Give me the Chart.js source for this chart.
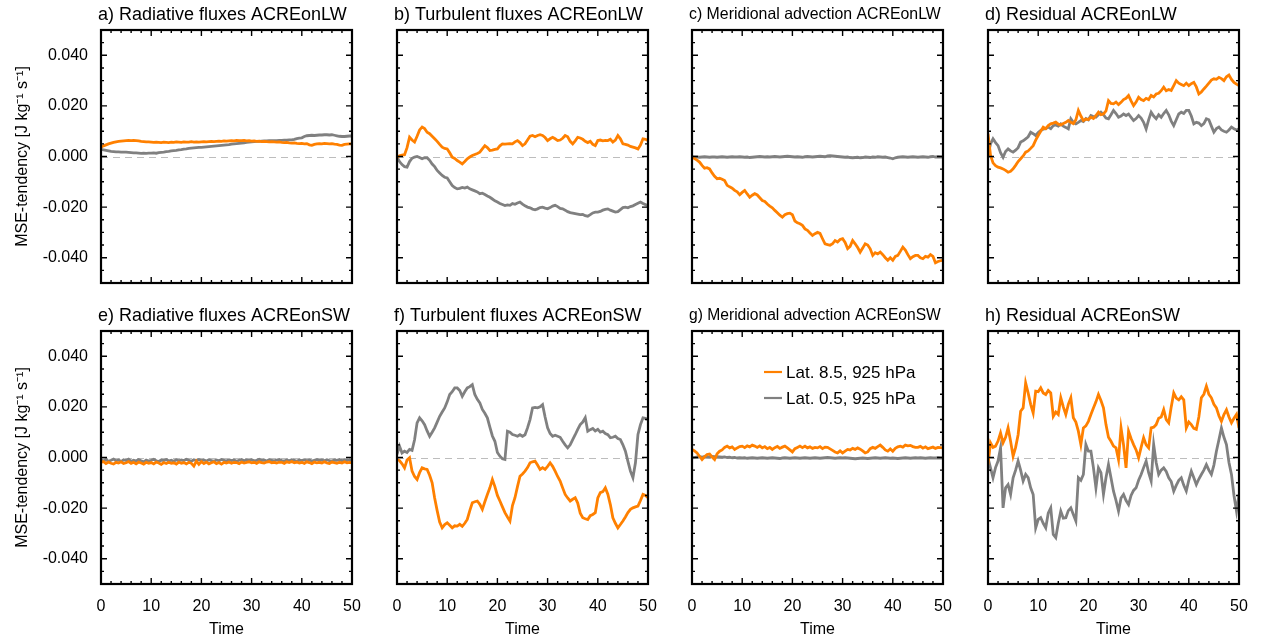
<!DOCTYPE html>
<html>
<head>
<meta charset="utf-8">
<title>MSE tendency ACRE</title>
<script src="https://cdn.jsdelivr.net/npm/chart.js@4.4.1/dist/chart.umd.min.js"></script>
<style>
  html, body { margin: 0; padding: 0; background: #fff; }
  body { width: 1262px; height: 639px; position: relative; overflow: hidden; }
  canvas { position: absolute; }
</style>
</head>
<body>
<div id="wrap"></div>
<script>
// ---- data (MSE-tendency, J kg-1 s-1) ----
const time = [
  0,0.5,1,1.5,2,2.5,3,3.5,4,4.5, 5,5.5,6,6.5,7,7.5,8,8.5,9,9.5,
  10,10.5,11,11.5,12,12.5,13,13.5,14,14.5, 15,15.5,16,16.5,17,17.5,18,18.5,19,19.5,
  20,20.5,21,21.5,22,22.5,23,23.5,24,24.5, 25,25.5,26,26.5,27,27.5,28,28.5,29,29.5,
  30,30.5,31,31.5,32,32.5,33,33.5,34,34.5, 35,35.5,36,36.5,37,37.5,38,38.5,39,39.5,
  40,40.5,41,41.5,42,42.5,43,43.5,44,44.5, 45,45.5,46,46.5,47,47.5,48,48.5,49,49.5, 50
];
const xTicks = [0, 10, 20, 30, 40, 50];
const yTicks = [-0.04, -0.02, 0, 0.02, 0.04];
const seriesLabels = ["Lat. 8.5, 925 hPa", "Lat. 0.5, 925 hPa"];
const panelTitles = [
  "a) Radiative fluxes ACREonLW", "b) Turbulent fluxes ACREonLW",
  "c) Meridional advection ACREonLW", "d) Residual ACREonLW",
  "e) Radiative fluxes ACREonSW", "f) Turbulent fluxes ACREonSW",
  "g) Meridional advection ACREonSW", "h) Residual ACREonSW"
];

const radLW_lat85 = [
  0.0037,0.0042,0.0046,0.005,0.0053,0.0056,0.0058,0.006,0.0061,0.0062,
  0.0063,0.0064,0.0063,0.0064,0.0063,0.0062,0.006,0.0059,0.0058,0.0058,
  0.0057,0.0056,0.0057,0.0056,0.0055,0.0057,0.0056,0.0055,0.0057,0.0056,
  0.0058,0.0057,0.0056,0.0058,0.0057,0.0057,0.0059,0.0057,0.0058,0.0057,
  0.0058,0.0059,0.0058,0.0059,0.006,0.0059,0.006,0.0061,0.006,0.0062,
  0.0061,0.0062,0.0063,0.0062,0.0064,0.0063,0.0063,0.0064,0.0062,0.0063,
  0.0061,0.0062,0.006,0.0061,0.0059,0.006,0.0059,0.0058,0.0059,0.0058,
  0.0057,0.0058,0.0056,0.0055,0.0056,0.0054,0.0053,0.0054,0.0052,0.0051,
  0.0052,0.005,0.0051,0.0046,0.0044,0.0048,0.005,0.0051,0.005,0.0052,
  0.0051,0.005,0.0051,0.0049,0.0048,0.0045,0.0044,0.0048,0.0049,0.005, 0.005
];
const radLW_lat05 = [
  0.0028,0.0026,0.0024,0.0022,0.002,0.0019,0.0018,0.0018,0.0017,0.0017,
  0.0017,0.0016,0.0015,0.0014,0.0014,0.0013,0.0012,0.0013,0.0012,0.0013,
  0.0013,0.0014,0.0013,0.0015,0.0016,0.0017,0.0019,0.002,0.0022,0.0023,
  0.0024,0.0026,0.0027,0.0029,0.003,0.0032,0.0033,0.0034,0.0035,0.0036,
  0.0036,0.0037,0.0038,0.0039,0.004,0.0041,0.0042,0.0043,0.0044,0.0045,
  0.0046,0.0047,0.0049,0.005,0.0051,0.0052,0.0053,0.0054,0.0056,0.0057,
  0.0058,0.0059,0.006,0.006,0.0061,0.0062,0.0062,0.0063,0.0063,0.0063,
  0.0063,0.0064,0.0064,0.0065,0.0065,0.0066,0.0066,0.0068,0.0071,0.0073,
  0.0074,0.0079,0.0082,0.0083,0.0084,0.0083,0.0084,0.0085,0.0085,0.0086,
  0.0086,0.0085,0.0086,0.0084,0.0082,0.008,0.0079,0.0079,0.008,0.0081, 0.0081
];
const turbLW_lat85 = [
  -0.0003,0.0003,0.0005,0.0007,0.0035,0.0076,0.0065,0.0057,0.008,0.0105,
  0.0116,0.011,0.0096,0.009,0.008,0.007,0.006,0.0048,0.0037,0.0032,
  0.003,0.0015,-0.0003,-0.0008,-0.0016,-0.0022,-0.0029,-0.002,-0.0009,-0.0002,
  0.0004,0.0008,0.0012,0.0017,0.003,0.0043,0.0035,0.0024,0.0025,0.0028,
  0.003,0.0042,0.005,0.0049,0.005,0.0051,0.005,0.0058,0.0063,0.0055,
  0.0043,0.005,0.0065,0.008,0.0083,0.0078,0.0083,0.0086,0.0083,0.0075,
  0.0063,0.007,0.0076,0.007,0.0063,0.0065,0.0072,0.0083,0.0078,0.006,
  0.005,0.0062,0.0076,0.0073,0.0068,0.006,0.0055,0.006,0.0048,0.0043,
  0.0063,0.0065,0.0062,0.0064,0.0063,0.0068,0.0057,0.0065,0.0083,0.007,
  0.005,0.0048,0.0045,0.004,0.0037,0.0034,0.003,0.0045,0.007,0.0068, 0.0063
];
const turbLW_lat05 = [
  -0.0003,-0.002,-0.0032,-0.004,-0.0042,-0.002,-0.0007,-0.0002,0,-0.0004,
  -0.0009,-0.0005,-0.0005,-0.0015,-0.003,-0.004,-0.0055,-0.0065,-0.0075,-0.0082,
  -0.0085,-0.01,-0.0115,-0.0123,-0.0128,-0.0126,-0.0122,-0.0125,-0.0121,-0.0128,
  -0.0132,-0.0136,-0.014,-0.0147,-0.0145,-0.015,-0.0156,-0.0161,-0.0168,-0.0175,
  -0.018,-0.0186,-0.019,-0.0194,-0.0191,-0.0193,-0.0186,-0.0189,-0.0184,-0.018,
  -0.0188,-0.0195,-0.02,-0.0203,-0.0208,-0.0211,-0.0207,-0.0202,-0.02,-0.0204,
  -0.0207,-0.0202,-0.0196,-0.0193,-0.0198,-0.0205,-0.0207,-0.0212,-0.0218,-0.0222,
  -0.0224,-0.0226,-0.0228,-0.023,-0.0229,-0.0234,-0.0236,-0.023,-0.0223,-0.022,
  -0.022,-0.0217,-0.0212,-0.0209,-0.0207,-0.0212,-0.0216,-0.022,-0.0218,-0.021,
  -0.0202,-0.02,-0.0203,-0.0198,-0.0195,-0.019,-0.0185,-0.018,-0.0186,-0.019, -0.0193
];
const advLW_lat85 = [
  -0.0003,-0.0008,-0.0014,-0.0022,-0.0035,-0.0046,-0.0044,-0.0049,-0.0065,-0.0078,
  -0.0088,-0.0086,-0.009,-0.0095,-0.0114,-0.012,-0.0125,-0.0134,-0.014,-0.0151,
  -0.0142,-0.0134,-0.0148,-0.0161,-0.0153,-0.0147,-0.0152,-0.0163,-0.0174,-0.0178,
  -0.0188,-0.0196,-0.0203,-0.0213,-0.0222,-0.0232,-0.024,-0.023,-0.0226,-0.0224,
  -0.023,-0.0255,-0.0262,-0.0266,-0.0272,-0.0286,-0.0292,-0.0302,-0.0312,-0.0305,
  -0.03,-0.0304,-0.0325,-0.0345,-0.0348,-0.0351,-0.0345,-0.0332,-0.0338,-0.0328,
  -0.0325,-0.034,-0.0364,-0.0355,-0.0332,-0.0345,-0.036,-0.0378,-0.0362,-0.0345,
  -0.035,-0.0365,-0.0391,-0.038,-0.0385,-0.0378,-0.0388,-0.04,-0.041,-0.04,
  -0.041,-0.0395,-0.0391,-0.0375,-0.0358,-0.037,-0.0388,-0.0404,-0.0396,-0.0391,
  -0.0391,-0.04,-0.0404,-0.0395,-0.0398,-0.0388,-0.0395,-0.042,-0.0415,-0.0412, -0.041
];
const advLW_lat05 = [
  -0.0001,-0.0002,-0.0002,-0.0003,-0.0002,-0.0001,-0.0002,-0.0003,-0.0002,-0.0002,
  -0.0003,-0.0002,-0.0001,-0.0002,-0.0003,-0.0002,-0.0001,-0.0002,-0.0002,-0.0001,
  -0.0002,-0.0003,-0.0002,-0.0004,-0.0003,-0.0002,-0.0001,0,-0.0001,-0.0002,
  -0.0001,-0.0002,-0.0001,0,-0.0001,-0.0002,-0.0001,0,0.0001,0,
  -0.0001,-0.0002,-0.0001,-0.0002,-0.0003,-0.0001,0,-0.0001,-0.0002,-0.0001,
  0,0.0001,0,-0.0001,0.0002,0.0003,0.0002,0.0001,0,-0.0001,
  -0.0002,-0.0003,-0.0002,-0.0004,-0.0005,-0.0004,-0.0003,-0.0005,-0.0004,-0.0002,
  -0.0003,-0.0004,-0.0002,-0.0003,-0.0001,-0.0002,-0.0003,-0.0002,-0.0004,-0.0006,
  -0.0009,-0.0005,-0.0003,-0.0002,-0.0001,-0.0002,-0.0003,-0.0002,-0.0001,-0.0002,
  -0.0003,-0.0002,-0.0001,-0.0002,-0.0003,-0.0001,0,-0.0002,-0.0001,-0.0002, -0.0002
];
const resLW_lat85 = [
  0.009,0.0005,-0.0025,-0.0036,-0.0042,-0.0045,-0.0049,-0.0055,-0.0062,-0.0058,
  -0.0049,-0.0035,-0.002,-0.0009,0.0002,0.0017,0.0022,0.0032,0.0043,0.0065,
  0.0083,0.01,0.0116,0.011,0.0122,0.0129,0.0132,0.0136,0.0128,0.0125,
  0.013,0.0135,0.0142,0.0135,0.013,0.0145,0.0182,0.016,0.0142,0.0148,
  0.0146,0.0155,0.015,0.0162,0.0175,0.0165,0.0168,0.018,0.0221,0.021,
  0.0208,0.0215,0.0205,0.0214,0.0225,0.023,0.0241,0.022,0.0201,0.0215,
  0.0234,0.0225,0.0221,0.023,0.0225,0.0241,0.0235,0.0247,0.025,0.026,
  0.0274,0.026,0.0265,0.0261,0.028,0.03,0.029,0.0285,0.028,0.029,
  0.028,0.0288,0.0293,0.0275,0.0247,0.0255,0.0267,0.0278,0.029,0.0302,
  0.0307,0.0305,0.0313,0.0308,0.03,0.0315,0.0322,0.0305,0.0293,0.0286, 0.028
];
const resLW_lat05 = [
  0.0004,0.005,0.007,0.0055,0.0043,0.0015,-0.0003,0.002,0.003,0.0022,
  0.0017,0.0025,0.0035,0.0057,0.0062,0.007,0.0078,0.0096,0.009,0.0083,
  0.0095,0.0103,0.0108,0.011,0.0116,0.011,0.0122,0.0125,0.012,0.0129,
  0.012,0.0115,0.0109,0.0149,0.0135,0.0129,0.0135,0.0142,0.0138,0.015,
  0.0145,0.0162,0.0158,0.0155,0.0165,0.0175,0.0165,0.0152,0.0149,0.0165,
  0.0182,0.017,0.0155,0.016,0.0168,0.0162,0.0168,0.0155,0.0142,0.015,
  0.0162,0.0152,0.0135,0.0109,0.0145,0.0175,0.016,0.0149,0.0165,0.0155,
  0.017,0.0182,0.0165,0.014,0.0122,0.0145,0.0168,0.0175,0.017,0.0182,
  0.0182,0.016,0.0129,0.0135,0.0132,0.0122,0.013,0.0149,0.0145,0.012,
  0.0096,0.011,0.0116,0.0105,0.01,0.0096,0.0105,0.0116,0.011,0.0105, 0.0109
];
const radSW_lat85 = [
  -0.002,-0.0016,-0.0024,-0.0018,-0.0023,-0.0026,-0.0019,-0.0022,-0.0017,-0.0024,
  -0.0021,-0.0016,-0.0023,-0.0019,-0.0025,-0.0018,-0.0022,-0.0026,-0.0019,-0.0023,
  -0.002,-0.0025,-0.0018,-0.0022,-0.0027,-0.002,-0.0024,-0.0019,-0.0023,-0.0021,
  -0.0026,-0.0018,-0.0023,-0.002,-0.0025,-0.0019,-0.0023,-0.0034,-0.0014,-0.0027,
  -0.0016,-0.0024,-0.0018,-0.0025,-0.0021,-0.0017,-0.0024,-0.002,-0.0026,-0.0019,
  -0.0022,-0.0018,-0.0023,-0.0019,-0.002,-0.0024,-0.0018,-0.0022,-0.0019,-0.0017,
  -0.0021,-0.0019,-0.0023,-0.0017,-0.002,-0.0022,-0.0018,-0.0016,-0.0021,-0.0019,
  -0.0022,-0.0018,-0.0019,-0.0023,-0.0017,-0.002,-0.0016,-0.0021,-0.0018,-0.0022,
  -0.0019,-0.0023,-0.0017,-0.002,-0.0024,-0.0018,-0.0021,-0.0019,-0.0022,-0.0017,
  -0.0021,-0.0024,-0.0018,-0.002,-0.0023,-0.0019,-0.0022,-0.0017,-0.0021,-0.0019, -0.002
];
const radSW_lat05 = [
  -0.0009,-0.0014,-0.0008,-0.0015,-0.0011,-0.0006,-0.0013,-0.001,-0.0016,-0.0009,
  -0.0012,-0.0007,-0.0015,-0.0011,-0.0014,-0.0008,-0.0013,-0.0017,-0.001,-0.0014,
  -0.0011,-0.0007,-0.0013,-0.0016,-0.001,-0.0012,-0.0008,-0.0014,-0.0011,-0.0015,
  -0.0009,-0.0013,-0.001,-0.0012,-0.0007,-0.0011,-0.0015,-0.0009,-0.0012,-0.0008,
  -0.0013,-0.001,-0.0014,-0.0009,-0.0012,-0.0015,-0.001,-0.0013,-0.0008,-0.0011,
  -0.0014,-0.0009,-0.0012,-0.001,-0.0015,-0.0011,-0.0008,-0.0013,-0.001,-0.0012,
  -0.0009,-0.0013,-0.0011,-0.0007,-0.0012,-0.001,-0.0014,-0.0009,-0.0011,-0.0013,
  -0.001,-0.0008,-0.0012,-0.0014,-0.001,-0.0013,-0.0009,-0.0011,-0.0015,-0.001,
  -0.0012,-0.0009,-0.0013,-0.001,-0.0014,-0.0011,-0.0008,-0.0012,-0.001,-0.0013,
  -0.0009,-0.0012,-0.0014,-0.001,-0.0011,-0.0008,-0.0013,-0.001,-0.0012,-0.0009, -0.0011
];
const turbSW_lat85 = [
  -0.0008,-0.0012,-0.0025,-0.0041,-0.001,-0.0001,-0.0054,-0.0075,-0.0087,-0.006,
  -0.0041,-0.0045,-0.0047,-0.007,-0.01,-0.016,-0.021,-0.0255,-0.0278,-0.0265,
  -0.0258,-0.0268,-0.0278,-0.027,-0.0271,-0.0264,-0.0272,-0.026,-0.0245,-0.021,
  -0.0179,-0.0175,-0.0172,-0.0185,-0.0205,-0.0175,-0.0146,-0.012,-0.0087,-0.0115,
  -0.015,-0.0172,-0.0195,-0.0218,-0.0235,-0.0251,-0.019,-0.0159,-0.0115,-0.0074,
  -0.0065,-0.0054,-0.004,-0.0021,-0.0017,-0.0014,-0.003,-0.0047,-0.004,-0.0047,
  -0.0035,-0.0021,-0.0035,-0.0054,-0.0075,-0.0093,-0.012,-0.0146,-0.016,-0.0172,
  -0.0165,-0.0159,-0.018,-0.022,-0.0238,-0.0242,-0.0245,-0.023,-0.0225,-0.0218,
  -0.016,-0.0139,-0.0135,-0.012,-0.0145,-0.0186,-0.0238,-0.026,-0.0278,-0.0265,
  -0.0251,-0.0235,-0.0218,-0.0205,-0.0199,-0.0195,-0.0192,-0.017,-0.0146,-0.015, -0.0159
];
const turbSW_lat05 = [
  0.0012,0.0045,0.0018,0.0025,0.002,0.0032,0.0028,0.007,0.0137,0.0157,
  0.0145,0.013,0.0105,0.0084,0.01,0.0117,0.014,0.0163,0.018,0.0196,
  0.022,0.0249,0.026,0.0275,0.0275,0.0265,0.0242,0.026,0.0275,0.028,
  0.0288,0.0249,0.023,0.0216,0.019,0.0175,0.0157,0.012,0.0085,0.0064,
  0.002,0.0005,-0.0005,-0.0008,0.0104,0.01,0.0091,0.0088,0.0084,0.009,
  0.0084,0.009,0.0117,0.015,0.0196,0.0198,0.0196,0.02,0.0209,0.016,
  0.0117,0.0095,0.0084,0.0088,0.0084,0.008,0.0064,0.005,0.0038,0.005,
  0.0071,0.009,0.0111,0.013,0.014,0.0157,0.0104,0.011,0.0115,0.0105,
  0.0111,0.01,0.0104,0.0095,0.009,0.0078,0.008,0.0084,0.0075,0.0071,
  0.005,0.0025,-0.0015,-0.0054,-0.008,-0.0021,0.0091,0.013,0.0157,0.0155, 0.015
];
const advSW_lat85 = [
  0.0032,0.0026,0.0018,0.0005,-0.0008,0.0003,0.0012,0.0014,0.0002,-0.0008,
  0.0015,0.0025,0.003,0.004,0.0045,0.0038,0.0042,0.0032,0.0038,0.0043,
  0.0045,0.0039,0.0046,0.0042,0.0049,0.0045,0.004,0.0046,0.0038,0.0043,
  0.0035,0.004,0.0032,0.0039,0.0044,0.0036,0.0041,0.0045,0.0038,0.003,
  0.0022,0.0035,0.004,0.0045,0.0039,0.0045,0.0038,0.0042,0.0036,0.004,
  0.0038,0.0043,0.0035,0.0041,0.004,0.0034,0.0028,0.0022,0.0018,0.0026,
  0.0018,0.0025,0.0032,0.003,0.0036,0.0032,0.0038,0.0033,0.0026,0.0018,
  0.0022,0.0035,0.004,0.0036,0.0043,0.0049,0.004,0.003,0.0025,0.0034,
  0.0025,0.0036,0.0042,0.0045,0.0041,0.0049,0.0046,0.0048,0.0043,0.004,
  0.004,0.0044,0.0037,0.0042,0.0035,0.0038,0.0041,0.0036,0.004,0.0039, 0.0038
];
const advSW_lat05 = [
  -0.0002,0,0.0002,0.0003,0.0001,0.0004,0.0003,0.0002,0.0004,0.0003,
  0.0003,0.0002,0.0001,0.0002,0,0.0001,-0.0001,0,-0.0002,-0.0001,
  -0.0002,-0.0001,-0.0003,-0.0002,-0.0001,-0.0002,-0.0003,-0.0002,-0.0001,-0.0002,
  -0.0003,-0.0002,-0.0001,-0.0002,-0.0003,-0.0004,-0.0002,-0.0001,-0.0002,-0.0003,
  -0.0002,-0.0001,-0.0002,-0.0003,-0.0002,-0.0001,-0.0002,-0.0003,-0.0002,-0.0001,
  -0.0002,-0.0003,-0.0002,-0.0001,0,-0.0001,-0.0002,-0.0003,-0.0002,-0.0001,
  -0.0002,-0.0001,-0.0002,-0.0003,-0.0004,-0.0005,-0.0004,-0.0003,-0.0002,-0.0003,
  -0.0004,-0.0003,-0.0002,-0.0001,-0.0002,-0.0003,-0.0002,-0.0001,-0.0002,-0.0003,
  -0.0002,-0.0003,-0.0004,-0.0003,-0.0002,-0.0001,-0.0002,-0.0003,-0.0002,-0.0001,
  -0.0002,-0.0001,-0.0002,-0.0003,-0.0002,-0.0001,-0.0002,-0.0002,-0.0001,-0.0002, -0.0002
];
const resSW_lat85 = [
  -0.0028,0.0058,0.004,0.0045,0.0065,0.0097,0.0058,0.008,0.0117,0.0064,
  0.0005,0.004,0.009,0.0183,0.0196,0.0295,0.0255,0.021,0.0176,0.0262,
  0.026,0.0275,0.0255,0.0249,0.0265,0.0255,0.0163,0.018,0.017,0.0236,
  0.02,0.017,0.021,0.0236,0.0157,0.014,0.0104,0.0051,0.0117,0.0125,
  0.0143,0.017,0.0196,0.022,0.0249,0.0225,0.0196,0.013,0.008,0.0064,
  0.0045,0.0038,-0.0008,0.0117,0.005,-0.0041,0.0104,0.0075,0.0051,0.003,
  -0.0001,0.004,0.0078,0.005,0.0038,0.0117,0.012,0.013,0.0155,0.016,
  0.0189,0.015,0.0137,0.02,0.0255,0.0235,0.0228,0.024,0.0228,0.0117,
  0.014,0.013,0.0115,0.0111,0.016,0.0236,0.025,0.0282,0.025,0.0236,
  0.021,0.0196,0.0165,0.0143,0.017,0.0189,0.016,0.0137,0.0155,0.017, 0.0117
];
const resSW_lat05 = [
  -0.0001,-0.0041,-0.008,-0.004,-0.0014,0.0038,-0.0199,-0.012,-0.0107,-0.0146,
  -0.008,-0.005,-0.0014,-0.005,-0.0093,-0.0067,-0.008,-0.012,-0.0146,-0.0278,
  -0.0245,-0.0238,-0.026,-0.0278,-0.022,-0.0199,-0.0304,-0.0317,-0.026,-0.0212,
  -0.024,-0.0238,-0.021,-0.0199,-0.0225,-0.0251,-0.008,-0.009,-0.0067,0.0051,
  0.0025,0.0025,-0.004,-0.012,-0.0041,-0.006,-0.0146,-0.008,-0.0028,-0.008,
  -0.0133,-0.017,-0.0212,-0.016,-0.0146,-0.017,-0.0186,-0.015,-0.013,-0.012,
  -0.009,-0.0067,-0.004,-0.0014,-0.006,-0.0093,0.0051,-0.002,-0.0067,-0.005,
  -0.0041,-0.0055,-0.008,-0.0095,-0.0133,-0.011,-0.009,-0.008,-0.011,-0.0133,
  -0.009,-0.0054,-0.008,-0.0107,-0.0085,-0.0067,-0.005,-0.0028,-0.005,-0.0067,
  -0.003,0.0025,0.007,0.0117,0.008,0.0051,-0.002,-0.0067,-0.015,-0.0212, -0.0146
];

const panelData = [
  [radLW_lat85, radLW_lat05], [turbLW_lat85, turbLW_lat05],
  [advLW_lat85, advLW_lat05], [resLW_lat85, resLW_lat05],
  [radSW_lat85, radSW_lat05], [turbSW_lat85, turbSW_lat05],
  [advSW_lat85, advSW_lat05], [resSW_lat85, resSW_lat05]
];

// ---- look ----
const ORANGE = "#ff8000";
const GRAY = "#808080";
const plotLeft = [101, 397, 692, 988];
const plotTop = [30, 331];
const AXIS_W = 100, TITLE_H = 30, XAXIS_H = 55, PLOT_W = 251, PAD_R = 22, PLOT_H = 253;
const FONT = '"Liberation Sans", Arial, Helvetica, sans-serif';

Chart.defaults.font.family = FONT;
Chart.defaults.color = "#000";

// zero line, frame, inward ticks, panel title, legend
const framePlugin = {
  id: "frame",
  beforeDatasetsDraw(chart) {
    const { ctx, chartArea: a, scales: { y } } = chart;
    const y0 = Math.round(y.getPixelForValue(0)) + 0.5;
    ctx.save();
    ctx.strokeStyle = "#bdbdbd";
    ctx.lineWidth = 1.2;
    ctx.setLineDash([7, 5]);
    ctx.beginPath();
    ctx.moveTo(a.left, y0);
    ctx.lineTo(a.right, y0);
    ctx.stroke();
    ctx.restore();
  },
  afterDraw(chart, args, opts) {
    const { ctx, chartArea: a, scales: { x, y } } = chart;
    ctx.save();
    ctx.strokeStyle = "#000";
    ctx.lineWidth = 1.4;
    ctx.beginPath();
    for (let i = 0; i <= 20; i++) {
      const v = -0.05 + i * 0.005;
      const p = y.getPixelForValue(v);
      const len = yTicks.some(t => Math.abs(t - v) < 1e-9) ? 6 : 3;
      ctx.moveTo(a.left, p); ctx.lineTo(a.left + len, p);
      ctx.moveTo(a.right, p); ctx.lineTo(a.right - len, p);
    }
    for (let t = 0; t <= 50; t += 2) {
      const p = x.getPixelForValue(t);
      ctx.moveTo(p, a.bottom); ctx.lineTo(p, a.bottom - 3);
      ctx.moveTo(p, a.top); ctx.lineTo(p, a.top + 3);
    }
    for (const t of xTicks) {
      const p = x.getPixelForValue(t);
      ctx.moveTo(p, a.bottom); ctx.lineTo(p, a.bottom - 6);
      ctx.moveTo(p, a.top); ctx.lineTo(p, a.top + 6);
    }
    ctx.stroke();
    ctx.lineWidth = 2.2;
    ctx.strokeRect(a.left, a.top, a.right - a.left, a.bottom - a.top);

    // panel title, shrunk when it would run past the frame
    ctx.fillStyle = "#000";
    ctx.textAlign = "left";
    ctx.textBaseline = "middle";
    let size = 18;
    ctx.font = size + "px " + FONT;
    const w = ctx.measureText(opts.title).width;
    const room = a.right - a.left + 1;
    if (w > room) {
      size = size * room / w;
      ctx.font = size.toFixed(2) + "px " + FONT;
    }
    ctx.fillText(opts.title, a.left - 3, a.top - 15);

    if (opts.legend) {
      ctx.font = "17px " + FONT;
      chart.data.datasets.forEach((ds, i) => {
        const ly = a.top + 41 + i * 26;
        ctx.strokeStyle = ds.borderColor;
        ctx.lineWidth = 2.2;
        ctx.beginPath();
        ctx.moveTo(a.left + 72, ly);
        ctx.lineTo(a.left + 90, ly);
        ctx.stroke();
        ctx.fillText(ds.label, a.left + 94, ly + 1);
      });
    }
    ctx.restore();
  }
};

const wrap = document.getElementById("wrap");

panelData.forEach((series, k) => {
  const row = Math.floor(k / 4), col = k % 4;
  const canvas = document.createElement("canvas");
  canvas.width = AXIS_W + PLOT_W + PAD_R;
  canvas.height = TITLE_H + PLOT_H + XAXIS_H;
  canvas.style.left = (plotLeft[col] - AXIS_W) + "px";
  canvas.style.top = (plotTop[row] - TITLE_H) + "px";
  canvas.style.width = canvas.width + "px";
  canvas.style.height = canvas.height + "px";
  wrap.appendChild(canvas);

  new Chart(canvas.getContext("2d"), {
    type: "line",
    data: {
      datasets: [
        {
          label: seriesLabels[0],
          data: time.map((t, i) => ({ x: t, y: series[0][i] })),
          borderColor: ORANGE, borderWidth: 2.8, pointRadius: 0, tension: 0, fill: false
        },
        {
          label: seriesLabels[1],
          data: time.map((t, i) => ({ x: t, y: series[1][i] })),
          borderColor: GRAY, borderWidth: 2.8, pointRadius: 0, tension: 0, fill: false
        }
      ]
    },
    options: {
      responsive: false,
      animation: false,
      devicePixelRatio: 1,
      events: [],
      layout: { padding: { top: TITLE_H, right: PAD_R, left: 0, bottom: 0 } },
      plugins: {
        legend: { display: false },
        tooltip: { enabled: false },
        frame: { title: panelTitles[k], legend: k === 6 }
      },
      scales: {
        x: {
          type: "linear", min: 0, max: 50,
          afterBuildTicks: s => { s.ticks = xTicks.map(v => ({ value: v })); },
          afterFit: s => { s.height = XAXIS_H; s.paddingLeft = 0; s.paddingRight = 0; },
          grid: { display: false, drawTicks: false },
          border: { display: false },
          ticks: { display: row === 1, padding: 13, maxRotation: 0, autoSkip: false, font: { size: 16 } },
          title: { display: row === 1, text: "Time", font: { size: 16 }, padding: { top: 0, bottom: 0 } }
        },
        y: {
          min: -0.05, max: 0.05,
          afterBuildTicks: s => { s.ticks = yTicks.map(v => ({ value: v })); },
          afterFit: s => { s.width = AXIS_W; s.paddingTop = 0; s.paddingBottom = 0; },
          grid: { display: false, drawTicks: false },
          border: { display: false },
          ticks: { display: col === 0, padding: 13, font: { size: 16 }, callback: v => v.toFixed(3) },
          title: { display: col === 0, text: "MSE-tendency [J kg⁻¹ s⁻¹]", font: { size: 16 }, padding: { top: 12, bottom: 0 } }
        }
      }
    },
    plugins: [framePlugin]
  });
});
</script>
</body>
</html>
